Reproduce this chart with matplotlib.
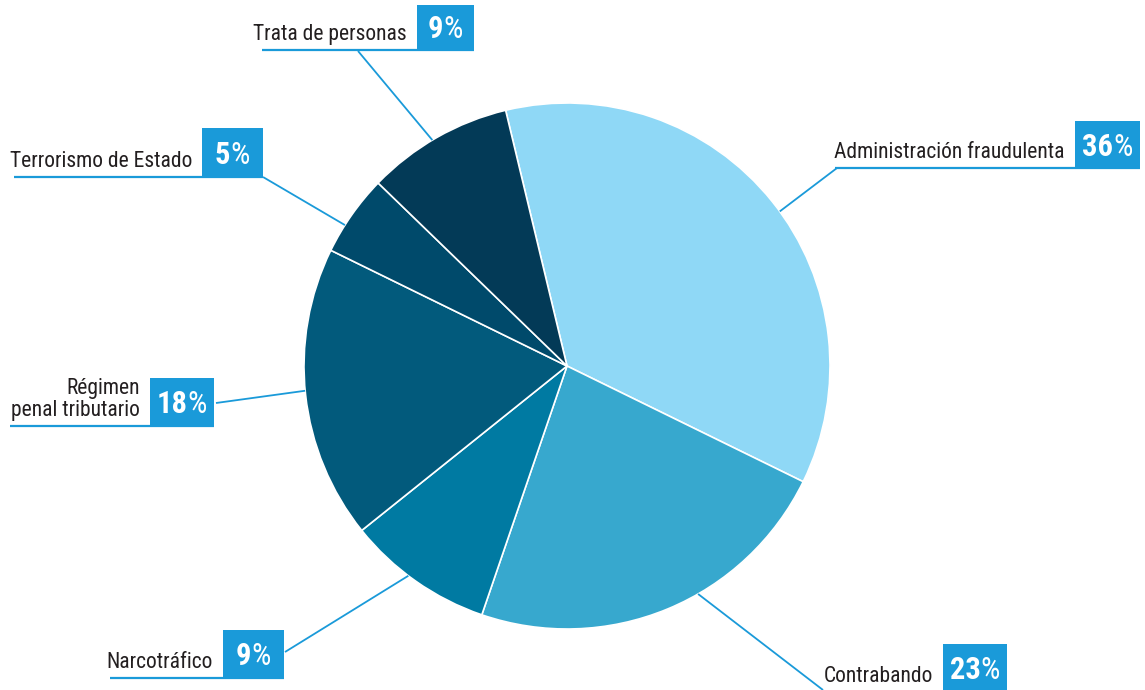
import matplotlib
matplotlib.use("Agg")
import matplotlib.pyplot as plt
from matplotlib.patches import Rectangle
from matplotlib import font_manager
import numpy as np

# ---- data ----
categories = ["Administración fraudulenta", "Contrabando", "Narcotráfico",
              "Régimen\npenal tributario", "Terrorismo de Estado", "Trata de personas"]
values = [36, 23, 9, 18, 5, 9]
colors = ["#8fd8f6", "#37a8ce", "#007aa2", "#025a7c", "#004a6b", "#033a57"]

# ---- layout (pixel coordinates, y from top) ----
W, H = 1145, 690
cx, cy, R = 567, 366, 263
start_angle = 103.5
# label boxes: (box_left, box_top, box_right, box_bottom, underline_left)
boxes = [
    (1075, 121, 1140, 168, 835),
    (943, 644, 1007, 692, 828),
    (223, 630, 284, 678, 110),
    (150, 378, 214, 426, 10),
    (202, 128, 263, 177, 14),
    (417, 5, 474, 50, 262),
]
# leader: (angle on pie in degrees, label-side point)
leaders = [
    (36.0, (837, 168)),
    (-60.1, (823, 690)),
    (-127.1, (285, 652)),
    (-174.6, (216, 403)),
    (147.6, (263, 177)),
    (120.8, (358, 51)),
]

flist = font_manager.fontManager.ttflist
names = {f.name for f in flist}
fam, stretch, lab_size = "Roboto", "normal", 13.6
for cand in ["Roboto Condensed", "Fira Sans Condensed", "Open Sans Condensed",
             "Noto Sans Condensed", "Liberation Sans Narrow", "Encode Sans Condensed"]:
    if cand in names:
        fam, stretch, lab_size = cand, "normal", 15.5
        break
else:
    for f in flist:
        if f.name in ("DejaVu Sans", "Noto Sans", "Open Sans") and str(f.stretch) in ("condensed", "semi-condensed", "extra-condensed"):
            fam, stretch, lab_size = f.name, f.stretch, 14.5
            break

BLUE = "#1a9ad9"
TXT = "#231f20"

fig = plt.figure(figsize=(W / 100, H / 100), dpi=100)
ax = fig.add_axes([0, 0, 1, 1])

def Y(y):
    return H - y

ax.pie(values, colors=colors, startangle=start_angle, counterclock=False,
       center=(cx, Y(cy)), radius=R, frame=True,
       wedgeprops=dict(edgecolor="white", linewidth=1.2))
ax.set_xlim(0, W)
ax.set_ylim(0, H)
ax.set_aspect("equal")
ax.axis("off")

fig.canvas.draw()
renderer = fig.canvas.get_renderer()

for cat, val, (bl, bt, br, bb, ul), (ang, (lx, ly)) in zip(categories, values, boxes, leaders):
    a = np.deg2rad(ang)
    px, py = cx + R * np.cos(a), Y(cy) + R * np.sin(a)
    ax.plot([px, lx], [py, Y(ly)], color=BLUE, lw=1.3, solid_capstyle="butt", zorder=3)
    ax.plot([ul, br], [Y(bb), Y(bb)], color=BLUE, lw=1.6, solid_capstyle="butt", zorder=3)
    ax.add_patch(Rectangle((bl, Y(bb)), br - bl, bb - bt, facecolor=BLUE,
                           edgecolor="none", zorder=4))
    ax.text(bl - 10, Y(bb) + 10, cat, ha="right", va="baseline", fontsize=lab_size,
            color=TXT, family=fam, stretch=stretch, linespacing=1.05,
            multialignment="right", zorder=5)
    t1 = ax.text(0, 0, str(val), fontsize=22, fontweight="bold", color="white",
                 family=fam, stretch=stretch, va="baseline", ha="left", zorder=5)
    t2 = ax.text(0, 0, "%", fontsize=22, color="white", family=fam, stretch=stretch,
                 va="baseline", ha="left", zorder=5)
    w1 = t1.get_window_extent(renderer).width
    w2 = t2.get_window_extent(renderer).width
    x0 = (bl + br) / 2 - (w1 + w2) / 2
    base = Y(bb) + (bb - bt) / 2 - 11
    t1.set_position((x0, base))
    t2.set_position((x0 + w1, base))

fig.savefig("out.png", dpi=100, facecolor="white")
